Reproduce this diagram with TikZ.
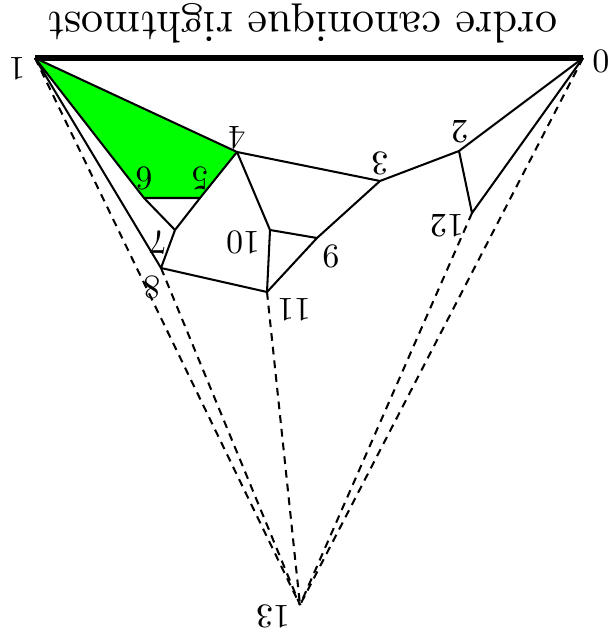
\documentclass[tikz,border=0pt]{standalone}
\begin{document}
\begin{tikzpicture}[
        x=0.01634cm,
        y=-0.01634cm,
        vlabel/.style={
            rotate=180,
            scale=1.575,
            inner sep=0pt,
            font=\normalsize
        },
        titlelabel/.style={
            rotate=180,
            scale=2.06,
            inner sep=0pt,
            font=\normalsize
        },
        edge/.style={
            line width=0.95pt,
            line join=round
        },
        baseedge/.style={
            line width=2.4pt
        },
        hidden/.style={
            line width=0.95pt,
            dash pattern=on 3.6pt off 2.8pt
        }
    ]

        \useasboundingbox (0,0) rectangle (612,639);

        \coordinate (v0) at (583,58);
        \coordinate (v1) at (35,58);
        \coordinate (v2) at (459,151);
        \coordinate (v3) at (380,181);
        \coordinate (v4) at (237,152);
        \coordinate (v5) at (200,198);
        \coordinate (v6) at (144,198);
        \coordinate (v7) at (175,230);
        \coordinate (v8) at (161,268);
        \coordinate (v9) at (317,238);
        \coordinate (v10) at (270,230);
        \coordinate (v11) at (267,292);
        \coordinate (v12) at (472,213);
        \coordinate (v13) at (300,605);

        % face coloured in green
        \fill[green] (v1) -- (v4) -- (v5) -- (v6) -- cycle;

        \draw[hidden] (v1) -- (v13);
        \draw[hidden] (v8) -- (v13);
        \draw[hidden] (v11) -- (v13);
        \draw[hidden] (v12) -- (v13);
        \draw[hidden] (v0) -- (v13);

        \draw[edge] (v1) -- (v4) -- (v3) -- (v2) -- (v0);
        \draw[edge] (v1) -- (v6) -- (v5) -- (v4);
        \draw[edge] (v6) -- (v7) -- (v5);
        \draw[edge] (v7) -- (v8);
        \draw[edge] (v1) -- (v8) -- (v11) -- (v10) -- (v4);
        \draw[edge] (v10) -- (v9) -- (v11);
        \draw[edge] (v9) -- (v3);
        \draw[edge] (v2) -- (v12) -- (v0);
        \draw[baseedge] (v1) -- (v0);

        \node[titlelabel] (title) at (302,23) {ordre canonique rightmost};
        \node[vlabel] (l0) at (601,61) {0};
        \node[vlabel] (l1) at (17,69) {1};
        \node[vlabel] (l2) at (460,132) {2};
        \node[vlabel] (l3) at (380,163) {3};
        \node[vlabel] (l4) at (237,138) {4};
        \node[vlabel] (l5) at (200,178) {5};
        \node[vlabel] (l6) at (144,178) {6};
        \node[vlabel] (l7) at (158,243) {7};
        \node[vlabel] (l8) at (152,287) {8};
        \node[vlabel] (l9) at (331,256) {9};
        \node[vlabel] (l10) at (243,242) {10};
        \node[vlabel] (l11) at (294,310) {11};
        \node[vlabel] (l12) at (447,226) {12};
        \node[vlabel] (l13) at (273,616) {13};

    \end{tikzpicture}
\end{document}
